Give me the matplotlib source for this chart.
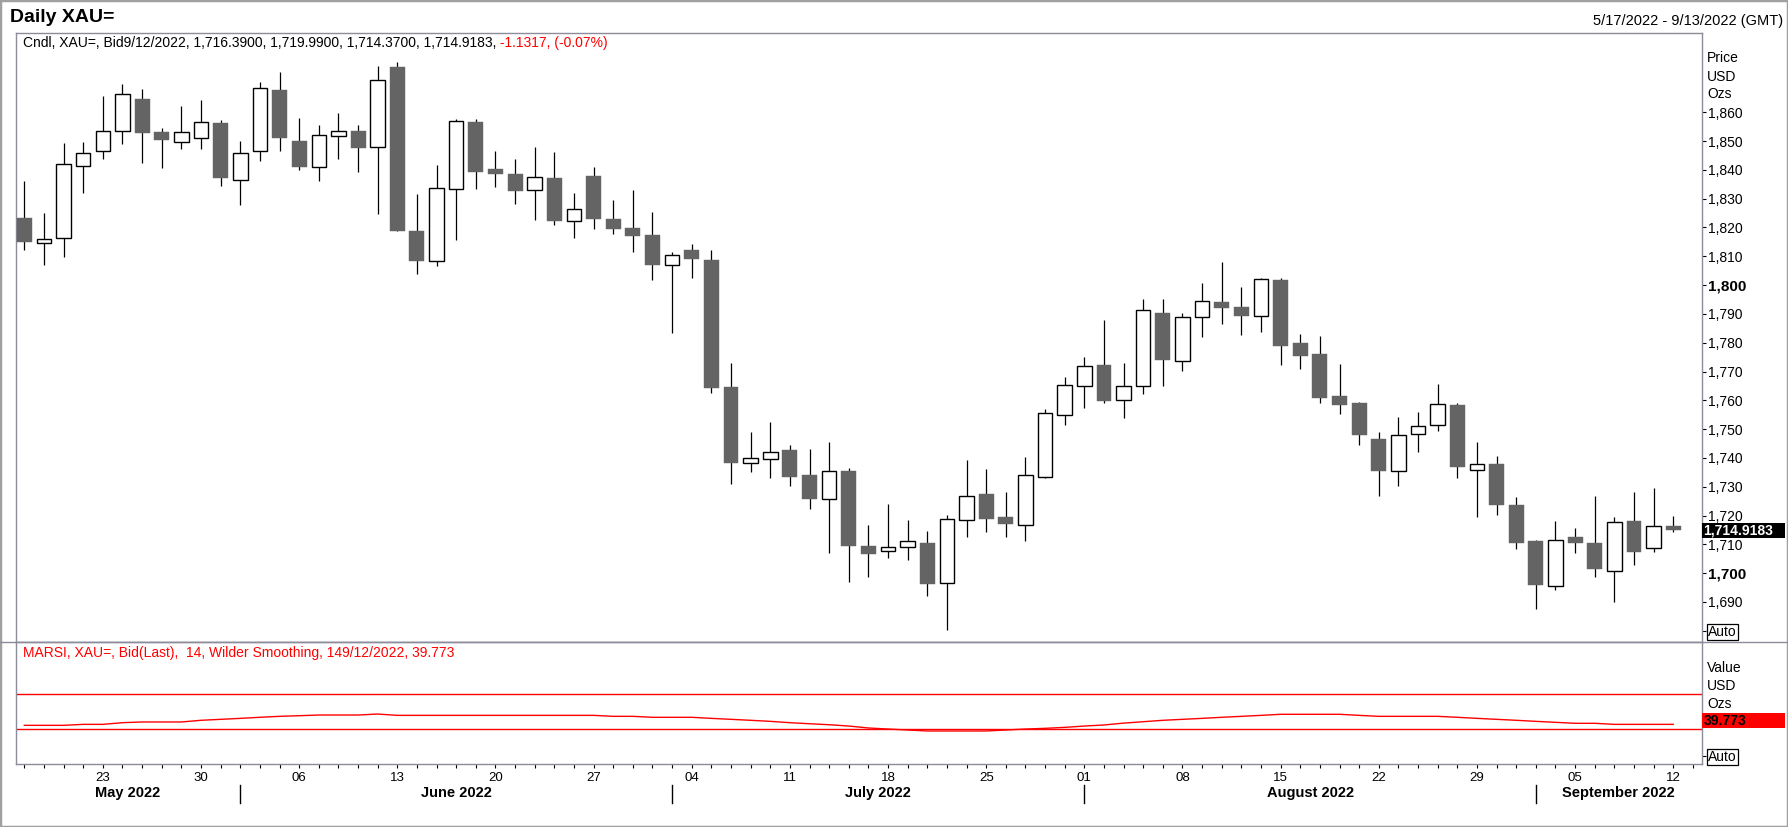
import numpy as np
import pandas as pd
import matplotlib
matplotlib.use("Agg")
import matplotlib.pyplot as plt
from matplotlib.transforms import blended_transform_factory
from matplotlib.lines import Line2D
from matplotlib.patches import Rectangle

plt.rcParams['font.family'] = ['Liberation Sans', 'DejaVu Sans']

### Data (daily XAU= bid candles)
dates = pd.bdate_range("2022-05-17", "2022-09-12")

opens = [1823.2, 1814.5, 1816.3, 1841.3, 1846.5, 1853.4, 1864.6, 1853.2, 1849.6, 1850.9,
         1856.3, 1836.4, 1846.5, 1867.7, 1850.0, 1840.9, 1851.7, 1853.5, 1847.8, 1875.7,
         1818.8, 1808.3, 1833.3, 1856.6, 1840.3, 1838.6, 1832.9, 1837.2, 1822.2, 1837.9,
         1823.0, 1819.9, 1817.4, 1806.9, 1812.2, 1808.7, 1764.6, 1738.1, 1739.5, 1742.8,
         1734.1, 1725.6, 1735.5, 1709.4, 1707.6, 1709.0, 1710.5, 1696.6, 1718.4, 1727.5,
         1719.5, 1716.6, 1733.5, 1754.8, 1764.9, 1772.3, 1760.0, 1764.9, 1790.3, 1773.5,
         1788.8, 1794.1, 1792.4, 1789.2, 1801.8, 1779.9, 1776.1, 1761.5, 1759.1, 1746.6,
         1735.4, 1748.2, 1751.3, 1758.4, 1735.8, 1737.9, 1723.7, 1711.2, 1695.5, 1712.6,
         1710.5, 1700.7, 1718.1, 1708.6, 1716.39]
highs = [1836.2, 1825.1, 1849.4, 1849.7, 1865.7, 1869.8, 1868.1, 1854.4, 1862.2, 1864.3,
         1857.3, 1850.0, 1870.6, 1874.0, 1858.0, 1855.6, 1859.8, 1855.6, 1876.1, 1877.4,
         1831.6, 1841.6, 1857.7, 1857.7, 1846.6, 1843.8, 1848.0, 1846.2, 1832.0, 1841.0,
         1829.6, 1833.1, 1825.4, 1811.4, 1814.3, 1812.2, 1773.0, 1749.0, 1752.5, 1744.5,
         1743.1, 1745.5, 1736.5, 1716.7, 1724.0, 1718.5, 1714.7, 1720.2, 1739.3, 1736.2,
         1728.2, 1740.3, 1757.0, 1768.1, 1775.1, 1787.9, 1773.0, 1795.2, 1795.2, 1790.2,
         1800.7, 1808.0, 1799.3, 1802.5, 1802.5, 1783.0, 1782.4, 1772.6, 1759.4, 1749.0,
         1754.2, 1756.0, 1765.7, 1759.1, 1745.6, 1740.7, 1726.5, 1711.5, 1718.1, 1715.7,
         1726.8, 1719.5, 1728.2, 1729.6, 1719.99]
lows = [1812.2, 1807.1, 1809.9, 1832.1, 1843.7, 1848.8, 1842.5, 1840.8, 1847.4, 1847.4,
        1834.5, 1827.9, 1843.2, 1846.7, 1840.0, 1836.3, 1843.9, 1839.1, 1824.8, 1818.6,
        1804.0, 1806.7, 1815.8, 1833.5, 1833.9, 1828.0, 1822.7, 1821.0, 1816.2, 1819.6,
        1817.9, 1811.6, 1801.6, 1783.5, 1802.6, 1762.7, 1731.1, 1735.2, 1733.2, 1730.4,
        1722.4, 1707.1, 1697.1, 1698.5, 1705.4, 1704.4, 1692.2, 1680.4, 1712.7, 1714.4,
        1712.7, 1711.3, 1733.2, 1751.6, 1757.5, 1759.2, 1754.0, 1762.3, 1764.8, 1770.3,
        1782.1, 1786.6, 1782.8, 1783.8, 1772.4, 1771.0, 1759.2, 1755.1, 1744.6, 1726.9,
        1730.1, 1741.9, 1749.2, 1733.2, 1719.6, 1720.3, 1708.5, 1687.7, 1694.0, 1706.9,
        1698.5, 1690.1, 1703.0, 1707.5, 1714.37]
closes = [1814.8, 1815.9, 1841.9, 1845.8, 1853.5, 1866.2, 1852.9, 1850.2, 1853.1, 1856.5,
          1837.3, 1845.8, 1868.3, 1850.9, 1841.1, 1852.0, 1853.4, 1847.7, 1871.1, 1818.9,
          1808.2, 1833.6, 1856.9, 1839.4, 1838.4, 1832.8, 1837.4, 1822.4, 1826.3, 1822.8,
          1819.6, 1817.2, 1807.1, 1810.4, 1809.2, 1764.4, 1738.4, 1739.9, 1742.0, 1733.5,
          1725.9, 1735.4, 1709.6, 1706.8, 1709.0, 1711.1, 1696.4, 1718.7, 1726.7, 1718.9,
          1716.9, 1734.0, 1755.5, 1765.2, 1771.8, 1759.9, 1764.9, 1791.4, 1774.1, 1788.8,
          1794.5, 1792.2, 1789.4, 1802.0, 1779.0, 1775.5, 1760.9, 1758.2, 1747.8, 1735.6,
          1747.9, 1751.0, 1758.6, 1737.0, 1737.8, 1723.5, 1710.6, 1696.0, 1711.4, 1710.3,
          1701.3, 1717.7, 1707.2, 1716.3, 1714.9183]

# MARSI (14, Wilder smoothing) values
rsi = [34.5, 34.5, 34.5, 35.6, 35.6, 37.5, 38.3, 38.3, 38.3, 40.2,
       41.3, 42.4, 43.6, 44.7, 45.4, 46.2, 46.2, 46.2, 47.3, 45.8,
       45.8, 45.8, 45.8, 45.8, 45.8, 45.8, 45.8, 45.8, 45.8, 45.8,
       44.7, 44.7, 43.6, 43.6, 43.6, 42.4, 41.3, 40.2, 39.0, 37.5,
       36.3, 35.2, 33.7, 31.5, 30.3, 29.2, 28.1, 28.1, 28.1, 28.1,
       29.2, 30.3, 31.1, 32.2, 33.7, 34.9, 37.0, 38.6, 40.2, 41.3,
       42.4, 43.6, 44.7, 45.8, 47.0, 47.0, 47.0, 47.0, 45.8, 44.7,
       44.7, 44.7, 44.7, 43.6, 42.4, 41.3, 40.2, 39.0, 37.9, 36.8,
       36.8, 35.6, 35.6, 35.6, 35.6]
rsi_last = 39.773
rsi_levels = [70, 30]

last_change = -1.1317
last_change_pct = -0.07
price_ticks = list(range(1690, 1861, 10))
auto_tick = 1680

### Layout (pixel positions of the 1788x827 output)
W, H = 1788, 827
fx = lambda px: px / W
fy = lambda py: 1 - py / H

AX_L, AX_R = 15.6, 1701.7
MAIN_T, SEP_Y, RSI_B = 33.3, 642.3, 764.3
XLIM = (-0.445, 85.45)
FRAME = '#8c8c9a'
DARK = '#646464'

fig = plt.figure(figsize=(W / 100, H / 100), dpi=100)
fig.patch.set_facecolor('white')

ax = fig.add_axes([fx(AX_L), fy(SEP_Y), fx(AX_R) - fx(AX_L), fy(MAIN_T) - fy(SEP_Y)])
ax2 = fig.add_axes([fx(AX_L), fy(RSI_B), fx(AX_R) - fx(AX_L), fy(SEP_Y) - fy(RSI_B)])

x = np.arange(len(dates))
o = np.array(opens); h = np.array(highs); l = np.array(lows); c = np.array(closes)
up = c >= o

# candles
ax.vlines(x, l, h, color='black', lw=0.9, zorder=2)
ax.bar(x[up], c[up] - o[up], bottom=o[up], width=0.74, facecolor='white',
       edgecolor='black', lw=1.0, zorder=3)
ax.bar(x[~up], o[~up] - c[~up], bottom=c[~up], width=0.76, facecolor=DARK,
       edgecolor=DARK, lw=0.3, zorder=3)

ax.set_xlim(XLIM)
ax.set_ylim(1676.0, 1887.4)
ax.set_xticks([])
ax.yaxis.tick_right()
yt = [auto_tick] + price_ticks
ax.set_yticks(yt, ['Auto'] + [f"{t:,}" for t in price_ticks])
ax.tick_params(axis='y', direction='out', length=3, width=0.8, pad=1.5, labelsize=10)
for lab, t in zip(ax.get_yticklabels(), yt):
    if t % 100 == 0:
        lab.set_fontweight('bold')
        lab.set_fontsize(11)
    if t == auto_tick:
        lab.set_bbox(dict(boxstyle='square,pad=0.08', fc='white', ec='black', lw=0.9))

# RSI panel
ax2.plot(x, rsi, color='red', lw=1.0)
for lv in rsi_levels:
    ax2.axhline(lv, color='red', lw=1.0)
ax2.set_xlim(XLIM)
ax2.set_ylim(-9.66, 128.6)
ax2.yaxis.tick_right()
ax2.set_yticks([0], ['Auto'])
ax2.tick_params(axis='y', direction='out', length=3, width=0.8, pad=1.5, labelsize=10)
ax2.get_yticklabels()[0].set_bbox(dict(boxstyle='square,pad=0.08', fc='white', ec='black', lw=0.9))

mondays = [i for i, d in enumerate(dates) if d.weekday() == 0]
ax2.set_xticks(range(len(dates) + 1), minor=True)
ax2.set_xticks(mondays, [f"{dates[i].day:02d}" for i in mondays])
ax2.tick_params(axis='x', which='both', direction='out', length=3, width=0.8, pad=2.5, labelsize=9.5)

for a in (ax, ax2):
    for s in a.spines.values():
        s.set_color(FRAME)
        s.set_linewidth(1.0)

# month separators and names
trans = blended_transform_factory(ax2.transData, ax2.transAxes)
starts = [i for i in range(1, len(dates)) if dates[i].month != dates[i - 1].month]
edges = [XLIM[0]] + starts + [XLIM[1]]
names = [dates[0].strftime('%B %Y')] + [dates[i].strftime('%B %Y') for i in starts]
for s in starts:
    ax2.plot([s, s], [-0.17, -0.317], transform=trans, color='black', lw=1.0, clip_on=False)
for a, b, name in zip(edges[:-1], edges[1:], names):
    ax2.text((a + b) / 2, -0.238, name, transform=trans, ha='center', va='center',
             fontsize=10.5, fontweight='bold')

# value boxes on the right axis
def value_box(axis, value, half_h, face, tcolor, label):
    tr = blended_transform_factory(axis.transAxes, axis.transData)
    bw = 83 / (AX_R - AX_L)
    axis.add_patch(Rectangle((1.0, value - half_h), bw, 2 * half_h, transform=tr,
                             facecolor=face, edgecolor='none', clip_on=False, zorder=5))
    axis.text(1.0 + 1.6 / (AX_R - AX_L), value, label, transform=tr, ha='left', va='center',
              color=tcolor, fontsize=10, fontweight='bold', clip_on=False, zorder=6)

value_box(ax, closes[-1], 2.6, 'black', 'white', f"{closes[-1]:,.4f}")
value_box(ax2, rsi_last, 8.5, '#ff0000', 'black', f"{rsi_last:.3f}")

# texts
fig.text(fx(10), fy(17), "Daily XAU=", fontsize=14, fontweight='bold', va='center')
fig.text(fx(1783), fy(21.5), "5/17/2022 - 9/13/2022 (GMT)", fontsize=10.5, ha='right', va='center')

d = dates[-1]
hdr = (f"Cndl, XAU=, Bid{d.month}/{d.day}/{d.year}, {opens[-1]:,.4f}, {highs[-1]:,.4f}, "
       f"{lows[-1]:,.4f}, {closes[-1]:,.4f},")
t1 = fig.text(fx(23), fy(43.3), hdr, fontsize=10, va='center')
fig.canvas.draw()
bb = t1.get_window_extent()
fig.text(bb.x1 / W, fy(43.3), f" {last_change:.4f}, ({last_change_pct:.2f}%)",
         fontsize=10, va='center', color='#ff0000')

fig.text(fx(23), fy(653.3), f"MARSI, XAU=, Bid(Last),  14, Wilder Smoothing, 149/12/2022, {rsi_last}",
         fontsize=10, va='center', color='#ff0000')

for txt, py in zip(["Price", "USD", "Ozs"], [58, 77, 94]):
    fig.text(fx(1707), fy(py), txt, fontsize=10, va='center')
for txt, py in zip(["Value", "USD", "Ozs"], [668, 686, 704]):
    fig.text(fx(1707), fy(py), txt, fontsize=10, va='center')

# frame and separator
fig.add_artist(Line2D([0, 1], [fy(SEP_Y)] * 2, color=FRAME, lw=1.0, transform=fig.transFigure))
fig.add_artist(Rectangle((0, 0), 1, 1, transform=fig.transFigure, fill=False,
                         edgecolor='#a0a0a0', lw=2.5))

fig.savefig('out.png', dpi=100)
